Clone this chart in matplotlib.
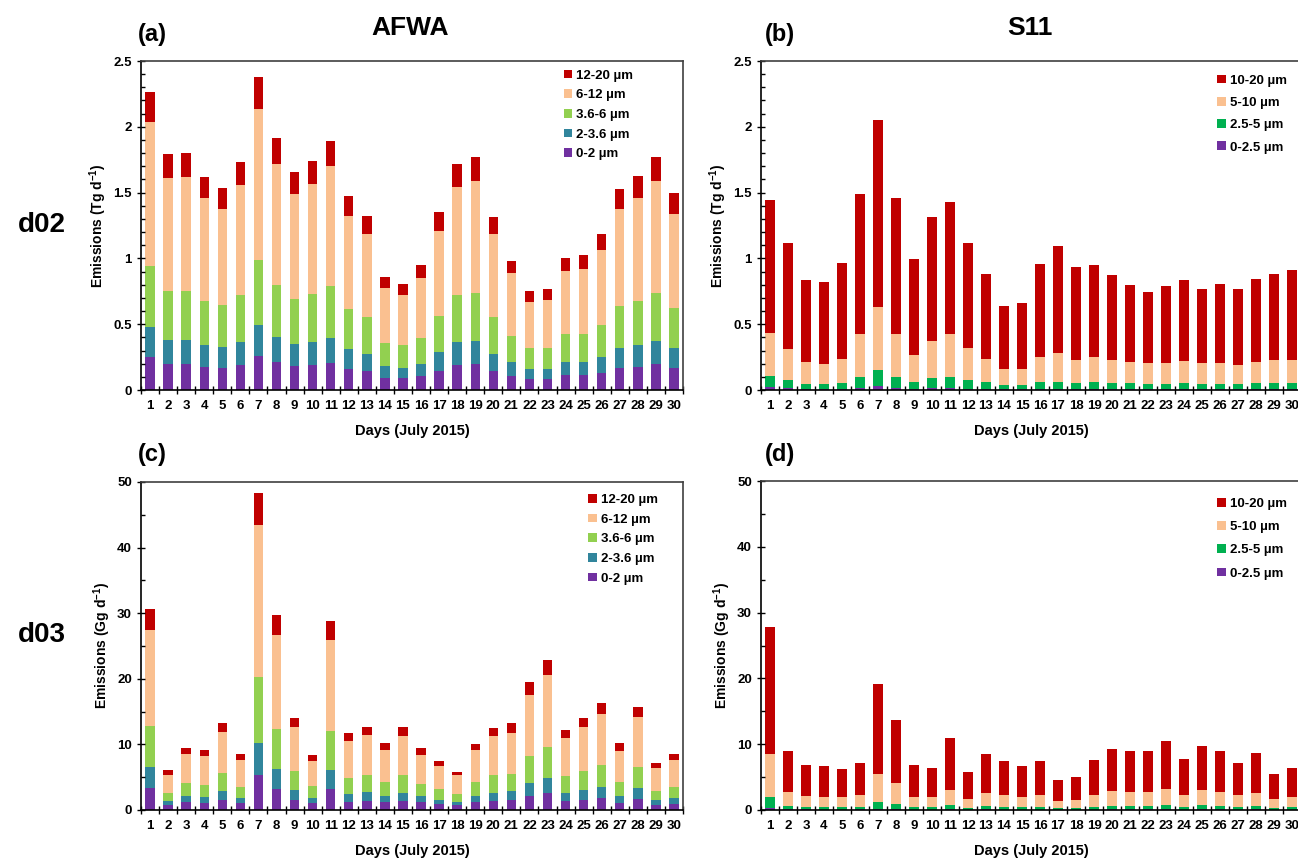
import matplotlib
matplotlib.use("Agg")
import matplotlib.pyplot as plt
import numpy as np
from matplotlib.ticker import MultipleLocator

plt.rcParams["font.family"] = ["Liberation Sans", "DejaVu Sans"]
plt.rcParams["font.weight"] = "bold"
plt.rcParams["mathtext.fontset"] = "custom"
plt.rcParams["mathtext.rm"] = "Liberation Sans:bold"
plt.rcParams["mathtext.bf"] = "Liberation Sans:bold"
plt.rcParams["mathtext.default"] = "bf"

days = list(range(1, 31))

# AFWA bins (cumulative tops, converted to layers below)
afwa_labels = ["0-2 µm", "2-3.6 µm", "3.6-6 µm", "6-12 µm", "12-20 µm"]
afwa_colors = ["#7030A0", "#31859C", "#92D050", "#FAC090", "#C00000"]

# d02, Tg/d — cumulative tops per bin
a_top_0_2 = [0.248, 0.198, 0.198, 0.175, 0.167, 0.19, 0.258, 0.21, 0.18, 0.19,
             0.203, 0.16, 0.144, 0.091, 0.089, 0.104, 0.144, 0.19, 0.198, 0.144,
             0.109, 0.084, 0.084, 0.114, 0.114, 0.132, 0.167, 0.177, 0.198, 0.167]
a_top_2_36 = [0.476, 0.38, 0.38, 0.34, 0.324, 0.362, 0.496, 0.403, 0.35, 0.367,
              0.398, 0.31, 0.276, 0.18, 0.17, 0.2, 0.286, 0.362, 0.372, 0.276,
              0.21, 0.157, 0.162, 0.215, 0.215, 0.25, 0.322, 0.34, 0.375, 0.317]
a_top_36_6 = [0.945, 0.75, 0.755, 0.676, 0.643, 0.724, 0.99, 0.798, 0.69, 0.73,
              0.788, 0.615, 0.552, 0.357, 0.34, 0.398, 0.565, 0.719, 0.74, 0.552,
              0.413, 0.317, 0.322, 0.423, 0.428, 0.494, 0.641, 0.679, 0.74, 0.626]
a_top_6_12 = [2.036, 1.608, 1.62, 1.456, 1.375, 1.558, 2.135, 1.717, 1.49, 1.563,
              1.70, 1.322, 1.188, 0.773, 0.724, 0.854, 1.211, 1.543, 1.59, 1.183,
              0.889, 0.671, 0.686, 0.904, 0.917, 1.061, 1.373, 1.456, 1.59, 1.34]
a_top_12_20 = [2.267, 1.79, 1.80, 1.62, 1.535, 1.735, 2.376, 1.912, 1.66, 1.74,
               1.892, 1.472, 1.322, 0.859, 0.805, 0.95, 1.35, 1.72, 1.768, 1.317,
               0.983, 0.75, 0.765, 1.006, 1.026, 1.185, 1.53, 1.626, 1.77, 1.494]

# d03, Gg/d — cumulative tops per bin
c_top_0_2 = [3.35, 0.76, 1.17, 1.07, 1.52, 1.02, 5.28, 3.2, 1.57, 1.02,
             3.15, 1.27, 1.37, 1.27, 1.42, 1.17, 0.91, 0.71, 1.17, 1.37,
             1.52, 2.18, 2.59, 1.37, 1.57, 1.78, 1.1, 1.7, 0.8, 0.9]
c_top_2_36 = [6.55, 1.32, 2.13, 1.98, 2.89, 1.83, 10.15, 6.19, 3.0, 1.78,
              6.04, 2.49, 2.74, 2.18, 2.64, 2.08, 1.57, 1.27, 2.18, 2.64,
              2.89, 4.11, 4.87, 2.59, 3.05, 3.55, 2.2, 3.3, 1.6, 1.8]
c_top_36_6 = [12.8, 2.59, 4.06, 3.86, 5.58, 3.5, 20.2, 12.39, 5.94, 3.65,
              11.98, 4.87, 5.38, 4.26, 5.28, 4.01, 3.15, 2.44, 4.31, 5.28,
              5.53, 8.17, 9.64, 5.23, 5.94, 6.9, 4.3, 6.5, 2.9, 3.5]
c_top_6_12 = [27.5, 5.38, 8.53, 8.27, 11.83, 7.56, 43.45, 26.65, 12.69, 7.51,
              25.84, 10.56, 11.42, 9.14, 11.32, 8.43, 6.7, 5.28, 9.09, 11.22,
              11.78, 17.46, 20.56, 10.91, 12.59, 14.67, 9.0, 14.2, 6.4, 7.6]
c_top_12_20 = [30.7, 6.09, 9.39, 9.14, 13.2, 8.48, 48.3, 29.75, 14.1, 8.43,
               28.78, 11.73, 12.69, 10.15, 12.59, 9.39, 7.46, 5.79, 10.05, 12.49,
               13.2, 19.44, 22.9, 12.18, 14.0, 16.35, 10.2, 15.7, 7.2, 8.5]

# S11 bins
s11_labels = ["0-2.5 µm", "2.5-5 µm", "5-10 µm", "10-20 µm"]
s11_colors = ["#7030A0", "#00B050", "#FAC090", "#C00000"]

# d02, Tg/d — cumulative tops per bin
b_top_0_25 = [0.02, 0.015, 0.01, 0.01, 0.01, 0.015, 0.028, 0.015, 0.01, 0.012,
              0.012, 0.01, 0.008, 0.006, 0.006, 0.008, 0.008, 0.008, 0.008, 0.008,
              0.008, 0.007, 0.007, 0.008, 0.007, 0.007, 0.007, 0.008, 0.008, 0.008]
b_top_25_5 = [0.104, 0.076, 0.048, 0.043, 0.053, 0.099, 0.155, 0.099, 0.063, 0.091,
              0.099, 0.076, 0.058, 0.04, 0.04, 0.058, 0.063, 0.053, 0.058, 0.053,
              0.053, 0.048, 0.048, 0.053, 0.048, 0.048, 0.043, 0.053, 0.053, 0.053]
b_top_5_10 = [0.436, 0.31, 0.21, 0.198, 0.238, 0.423, 0.628, 0.428, 0.268, 0.375,
              0.423, 0.317, 0.233, 0.157, 0.162, 0.25, 0.279, 0.23, 0.25, 0.23,
              0.215, 0.203, 0.208, 0.22, 0.203, 0.208, 0.193, 0.215, 0.225, 0.23]
b_top_10_20 = [1.446, 1.114, 0.833, 0.818, 0.965, 1.489, 2.049, 1.461, 0.993, 1.312,
               1.426, 1.12, 0.884, 0.636, 0.664, 0.96, 1.094, 0.932, 0.95, 0.876,
               0.80, 0.742, 0.79, 0.838, 0.77, 0.803, 0.765, 0.846, 0.881, 0.909]

# d03, Gg/d — cumulative tops per bin
d_top_0_25 = [0.35, 0.1, 0.08, 0.07, 0.07, 0.08, 0.15, 0.12, 0.07, 0.07,
              0.1, 0.06, 0.08, 0.07, 0.07, 0.07, 0.05, 0.05, 0.07, 0.09,
              0.09, 0.09, 0.1, 0.07, 0.1, 0.09, 0.07, 0.08, 0.05, 0.06]
d_top_25_5 = [1.98, 0.61, 0.5, 0.4, 0.4, 0.5, 1.22, 0.96, 0.45, 0.4,
              0.76, 0.35, 0.61, 0.5, 0.4, 0.5, 0.3, 0.3, 0.5, 0.66,
              0.66, 0.66, 0.76, 0.5, 0.76, 0.66, 0.5, 0.66, 0.35, 0.4]
d_top_5_10 = [8.45, 2.78, 2.17, 2.02, 1.92, 2.22, 5.42, 4.05, 2.02, 1.92,
              3.09, 1.67, 2.63, 2.22, 2.02, 2.33, 1.37, 1.52, 2.33, 2.84,
              2.74, 2.74, 3.19, 2.33, 3.04, 2.74, 2.23, 2.63, 1.67, 1.98]
d_top_10_20 = [27.8, 9.0, 6.78, 6.63, 6.23, 7.09, 19.1, 13.68, 6.89, 6.33,
               10.89, 5.83, 8.56, 7.5, 6.63, 7.5, 4.56, 4.96, 7.6, 9.22,
               8.92, 8.92, 10.44, 7.75, 9.68, 9.02, 7.19, 8.61, 5.47, 6.38]

W, H = 1298, 858


def px_axes(fig, left, right, top, bottom):
    return fig.add_axes([left / W, 1 - bottom / H, (right - left) / W, (bottom - top) / H])


def draw_panel(ax, tops, labels, colors, ymax, major, minor, ylabel,
               legend_anchor, legend_spacing):
    x = np.array(days)
    prev = np.zeros(len(days))
    handles = []
    for top, lab, col in zip(tops, labels, colors):
        top = np.array(top)
        h = ax.bar(x, top - prev, bottom=prev, width=0.52, color=col,
                   linewidth=0, label=lab)
        handles.append(h)
        prev = top

    ax.set_xlim(0.5, 30.5)
    ax.set_ylim(0, ymax)
    ax.set_xticks(x)
    ax.set_xticklabels([str(d) for d in days])
    ax.set_xticks(np.arange(0.5, 31, 1), minor=True)
    ax.tick_params(axis="x", which="major", length=0, labelsize=9.5, pad=7)
    ax.tick_params(axis="x", which="minor", direction="inout", length=6, width=1)
    ax.yaxis.set_major_locator(MultipleLocator(major))
    ax.yaxis.set_minor_locator(MultipleLocator(minor))
    ax.tick_params(axis="y", which="major", direction="inout", length=6, width=1,
                   labelsize=9.5)
    ax.tick_params(axis="y", which="minor", direction="in", length=3, width=1)
    ax.yaxis.set_major_formatter(plt.FuncFormatter(lambda v, p: f"{v:g}"))

    for side in ("top", "right"):
        ax.spines[side].set_color("#404040")
        ax.spines[side].set_linewidth(1.2)
    for side in ("left", "bottom"):
        ax.spines[side].set_color("black")
        ax.spines[side].set_linewidth(1.2)

    ax.set_xlabel("Days (July 2015)", fontsize=10.5, fontweight="bold", labelpad=9)
    ax.set_ylabel(ylabel, fontsize=10, fontweight="bold", labelpad=3)

    leg = ax.legend(handles[::-1], labels[::-1], loc="upper left",
                    bbox_to_anchor=legend_anchor, frameon=False,
                    handlelength=0.65, handleheight=0.65, handletextpad=0.3,
                    labelspacing=legend_spacing, fontsize=9.5, borderaxespad=0)
    for t in leg.get_texts():
        t.set_fontweight("bold")


fig = plt.figure(figsize=(W / 100, H / 100), dpi=100)

ax_a = px_axes(fig, 141, 683, 61, 390)
ax_b = px_axes(fig, 761, 1301, 61, 390)
ax_c = px_axes(fig, 141, 683, 482, 810)
ax_d = px_axes(fig, 761, 1301, 481, 810)

draw_panel(ax_a, [a_top_0_2, a_top_2_36, a_top_36_6, a_top_6_12, a_top_12_20],
           afwa_labels, afwa_colors, 2.5, 0.5, 0.1,
           r"Emissions (Tg d$^{-1}$)", (0.77, 0.99), 0.58)
draw_panel(ax_b, [b_top_0_25, b_top_25_5, b_top_5_10, b_top_10_20],
           s11_labels, s11_colors, 2.5, 0.5, 0.1,
           r"Emissions (Tg d$^{-1}$)", (0.835, 0.975), 0.78)
draw_panel(ax_c, [c_top_0_2, c_top_2_36, c_top_36_6, c_top_6_12, c_top_12_20],
           afwa_labels, afwa_colors, 50, 10, 5,
           r"Emissions (Gg d$^{-1}$)", (0.815, 0.98), 0.58)
draw_panel(ax_d, [d_top_0_25, d_top_25_5, d_top_5_10, d_top_10_20],
           s11_labels, s11_colors, 50, 10, 5,
           r"Emissions (Gg d$^{-1}$)", (0.835, 0.965), 0.85)

fig.text(410 / W, 1 - 28 / H, "AFWA", fontsize=19, fontweight="bold", ha="center", va="center")
fig.text(1030 / W, 1 - 28 / H, "S11", fontsize=19, fontweight="bold", ha="center", va="center")
fig.text(152 / W, 1 - 35 / H, "(a)", fontsize=17, fontweight="bold", ha="center", va="center")
fig.text(780 / W, 1 - 35 / H, "(b)", fontsize=17, fontweight="bold", ha="center", va="center")
fig.text(152 / W, 1 - 455 / H, "(c)", fontsize=17, fontweight="bold", ha="center", va="center")
fig.text(780 / W, 1 - 455 / H, "(d)", fontsize=17, fontweight="bold", ha="center", va="center")
fig.text(42 / W, 1 - 225 / H, "d02", fontsize=20, fontweight="bold", ha="center", va="center")
fig.text(42 / W, 1 - 635 / H, "d03", fontsize=20, fontweight="bold", ha="center", va="center")

fig.savefig("out.png", dpi=100)
